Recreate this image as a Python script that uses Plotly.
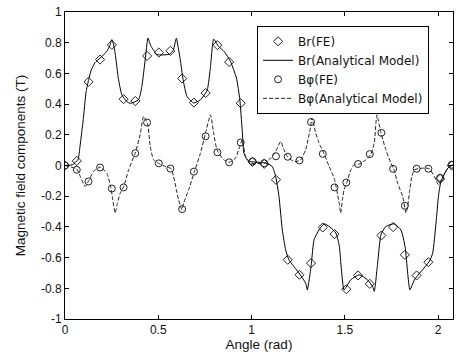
import plotly.graph_objects as go

# FE sample angles (rad)
angle_fe = [0.000, 0.063, 0.126, 0.188, 0.251, 0.314, 0.377, 0.440, 0.503, 0.565,
            0.628, 0.691, 0.754, 0.817, 0.880, 0.942, 1.005, 1.068, 1.131, 1.194,
            1.257, 1.319, 1.382, 1.445, 1.508, 1.571, 1.634, 1.696, 1.759, 1.822,
            1.885, 1.948, 2.011, 2.073]

br_fe = [0.0, 0.03, 0.545, 0.69, 0.786, 0.432, 0.42, 0.714, 0.736, 0.747,
         0.567, 0.41, 0.472, 0.784, 0.674, 0.406, 0.024, 0.011, -0.093, -0.614,
         -0.712, -0.636, -0.404, -0.447, -0.806, -0.716, -0.771, -0.456, -0.401, -0.582,
         -0.716, -0.63, -0.087, 0.0]

bphi_fe = [0.0, -0.028, -0.104, -0.013, -0.15, -0.143, 0.08, 0.28, 0.014, -0.02,
           -0.284, -0.04, 0.19, 0.086, 0.021, 0.15, 0.026, 0.015, 0.06, 0.057,
           0.033, 0.283, 0.076, -0.143, -0.111, 0.01, 0.074, 0.213, -0.022, -0.262,
           -0.021, -0.021, -0.08, 0.005]

# Analytical model curves
br_model_angle = [0.0, 0.04, 0.07, 0.08, 0.09, 0.098, 0.113, 0.127, 0.14, 0.161, 0.188,
                  0.224, 0.24, 0.251, 0.26, 0.269, 0.287, 0.305, 0.331, 0.349, 0.394,
                  0.412, 0.43, 0.445, 0.46, 0.49, 0.51, 0.56, 0.58, 0.597, 0.608,
                  0.618, 0.633, 0.654, 0.69, 0.726, 0.762, 0.78, 0.797, 0.824, 0.855,
                  0.887, 0.919, 0.937, 0.95, 0.959, 0.977, 0.995, 1.075, 1.111, 1.129,
                  1.147, 1.165, 1.183, 1.2, 1.254, 1.29, 1.299, 1.312, 1.321, 1.335,
                  1.362, 1.389, 1.42, 1.452, 1.47, 1.482, 1.496, 1.532, 1.577, 1.622,
                  1.649, 1.658, 1.676, 1.694, 1.72, 1.765, 1.801, 1.823, 1.837, 1.849,
                  1.873, 1.909, 1.953, 1.971, 1.989, 2.002, 2.016, 2.052, 2.08]
br_model_value = [0.0, 0.005, 0.04, 0.12, 0.22, 0.30, 0.48, 0.56, 0.62, 0.67, 0.70,
                  0.743, 0.78, 0.82, 0.79, 0.73, 0.56, 0.46, 0.417, 0.405, 0.428,
                  0.515, 0.69, 0.83, 0.78, 0.725, 0.72, 0.725, 0.75, 0.83, 0.76,
                  0.69, 0.56, 0.45, 0.407, 0.428, 0.49, 0.645, 0.823, 0.775, 0.74,
                  0.678, 0.57, 0.43, 0.23, 0.08, 0.037, 0.026, 0.016, -0.006, -0.07,
                  -0.2, -0.42, -0.55, -0.614, -0.70, -0.766, -0.81, -0.72, -0.636, -0.484,
                  -0.419, -0.38, -0.40, -0.44, -0.52, -0.68, -0.81, -0.745, -0.712, -0.745,
                  -0.788, -0.82, -0.636, -0.45, -0.397, -0.38, -0.42, -0.528, -0.70, -0.81,
                  -0.745, -0.69, -0.625, -0.571, -0.375, -0.2, -0.10, -0.017, 0.005]

bphi_model_angle = [0.0, 0.063, 0.085, 0.108, 0.127, 0.152, 0.188, 0.224, 0.245, 0.256,
                    0.269, 0.281, 0.296, 0.314, 0.341, 0.376, 0.403, 0.421, 0.443, 0.457,
                    0.475, 0.507, 0.538, 0.568, 0.582, 0.597, 0.609, 0.627, 0.636, 0.663,
                    0.694, 0.726, 0.753, 0.78, 0.797, 0.815, 0.851, 0.883, 0.914, 0.937,
                    0.95, 0.968, 0.995, 1.072, 1.102, 1.129, 1.156, 1.174, 1.192, 1.227,
                    1.26, 1.29, 1.317, 1.323, 1.344, 1.362, 1.389, 1.416, 1.443, 1.47,
                    1.478, 1.487, 1.496, 1.511, 1.532, 1.55, 1.577, 1.613, 1.64, 1.658,
                    1.672, 1.694, 1.72, 1.747, 1.762, 1.783, 1.81, 1.828, 1.837, 1.846,
                    1.859, 1.873, 1.891, 1.923, 1.953, 1.98, 2.002, 2.016, 2.052, 2.08]
bphi_model_value = [0.0, -0.023, -0.08, -0.137, -0.10, -0.04, -0.01, -0.05, -0.137, -0.224,
                    -0.31, -0.245, -0.18, -0.14, -0.028, 0.08, 0.2, 0.32, 0.27, 0.124,
                    0.037, 0.011, -0.007, -0.02, -0.072, -0.158, -0.224, -0.289, -0.245, -0.158,
                    -0.039, 0.08, 0.21, 0.33, 0.21, 0.102, 0.037, 0.022, 0.048, 0.124,
                    0.167, 0.059, 0.016, 0.016, 0.048, 0.091, 0.156, 0.102, 0.059, 0.026,
                    0.033, 0.102, 0.254, 0.309, 0.211, 0.146, 0.076, -0.007, -0.082, -0.245,
                    -0.31, -0.224, -0.158, -0.111, -0.028, 0.005, 0.009, 0.037, 0.074, 0.146,
                    0.33, 0.211, 0.102, 0.016, -0.021, -0.115, -0.2, -0.31, -0.267, -0.18,
                    -0.072, -0.028, -0.021, -0.017, -0.021, -0.072, -0.126, -0.10, -0.017, 0.012]

x_ticks = [0, 0.5, 1, 1.5, 2]
x_tick_text = ["0", "0.5", "1", "1.5", "2"]
y_ticks = [1, 0.8, 0.6, 0.4, 0.2, 0, -0.2, -0.4, -0.6, -0.8, -1]
y_tick_text = ["1", "0.8", "0.6", "0.4", "0.2", "0", "-0.2", "-0.4", "-0.6", "-0.8", "-1"]

FONT = "Liberation Sans, Arial, sans-serif"
LEGEND_FONT = "DejaVu Sans, sans-serif"

fig = go.Figure()
fig.add_trace(go.Scatter(x=angle_fe, y=br_fe, mode="markers", name="Br(FE)",
                         marker=dict(symbol="diamond-open", size=7, color="#222222",
                                     line=dict(width=1, color="#222222"))))
fig.add_trace(go.Scatter(x=br_model_angle, y=br_model_value, mode="lines",
                         name="Br(Analytical Model)",
                         line=dict(color="black", width=1, shape="spline", smoothing=0.5)))
fig.add_trace(go.Scatter(x=angle_fe, y=bphi_fe, mode="markers", name="Bφ(FE)",
                         marker=dict(symbol="circle-open", size=7, color="#222222",
                                     line=dict(width=1, color="#222222"))))
fig.add_trace(go.Scatter(x=bphi_model_angle, y=bphi_model_value, mode="lines",
                         name="Bφ(Analytical Model)",
                         line=dict(color="#222222", width=1, dash="4px,2px",
                                   shape="spline", smoothing=0.5)))

axis_common = dict(showgrid=False, zeroline=False, showline=True, linecolor="black",
                   linewidth=1, mirror="ticks", ticks="inside", ticklen=4,
                   tickcolor="black", automargin=False,
                   tickfont=dict(family=FONT, size=12, color="#111111"))

fig.update_layout(
    width=459, height=359,
    margin=dict(l=65, r=6, t=12, b=40),
    paper_bgcolor="white", plot_bgcolor="white",
    font=dict(family=FONT, size=13, color="#111111"),
    xaxis=dict(range=[0, 2.08], tickvals=x_ticks, ticktext=x_tick_text,
               title=dict(text="Angle (rad)", font=dict(size=13.5), standoff=2),
               **axis_common),
    yaxis=dict(range=[-1, 1], tickvals=y_ticks, ticktext=y_tick_text,
               title=dict(text="Magnetic field components (T)", font=dict(size=13.5), standoff=12),
               **axis_common),
    legend=dict(x=0.495, y=0.955, xanchor="left", yanchor="top",
                bordercolor="black", borderwidth=1, bgcolor="white",
                font=dict(family=LEGEND_FONT, size=12, color="#111111"),
                tracegroupgap=0),
    showlegend=True,
)

fig.write_html("out.html", config={"displayModeBar": False},
               post_script="document.body.style.margin='0px';")
